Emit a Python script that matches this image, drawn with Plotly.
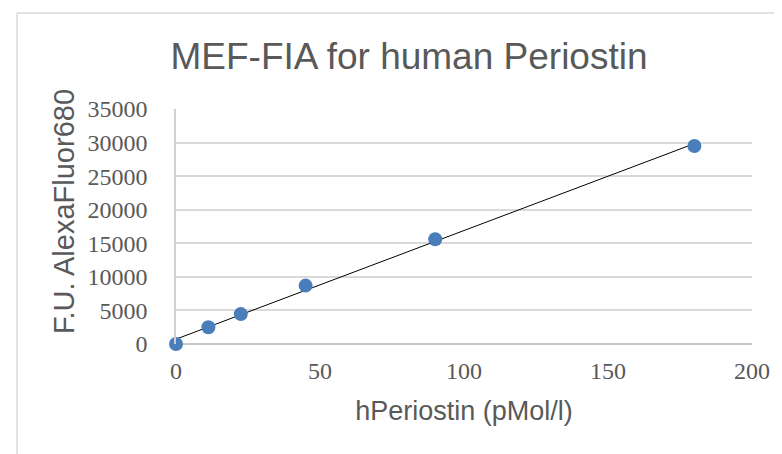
import numpy as np
import plotly.graph_objects as go

conc = [0, 11.25, 22.5, 45, 90, 180]
signal = [0, 2500, 4450, 8700, 15600, 29500]

x_ticks = [0, 50, 100, 150, 200]
y_ticks = [0, 5000, 10000, 15000, 20000, 25000, 30000, 35000]

slope, intercept = np.polyfit(conc, signal, 1)
trend_x = [min(conc), max(conc)]
trend_y = [slope * v + intercept for v in trend_x]

fig = go.Figure()
fig.add_trace(go.Scatter(x=trend_x, y=trend_y, mode="lines",
                         line=dict(color="black", width=1), showlegend=False,
                         hoverinfo="skip"))
fig.add_trace(go.Scatter(x=conc, y=signal, mode="markers", cliponaxis=False,
                         marker=dict(color="#4a7ebb", size=14),
                         showlegend=False))

# page has an 8px body margin; lay out in page coordinates
OFF = 8
W, H = 782 - OFF, 454 - OFF
L, R, T, B = 176 - OFF, 30, 109 - OFF, 110
pw, ph = W - L - R, H - T - B

def px(xp):
    return (xp - OFF - L) / pw

def py(yp):
    return (H - B - (yp - OFF)) / ph

fig.update_layout(
    width=W, height=H,
    margin=dict(l=L, r=R, t=T, b=B),
    paper_bgcolor="white", plot_bgcolor="white",
    title=dict(text="MEF-FIA for human Periostin", x=(409 - OFF) / W, xanchor="center",
               y=1 - (56 - OFF) / H, yanchor="middle",
               font=dict(family="Liberation Sans", size=37, color="#595959")),
    xaxis=dict(range=[0, 200], tickvals=x_ticks, showgrid=False, zeroline=False,
               showline=False, ticks="", ticklabelstandoff=10,
               tickfont=dict(family="Liberation Serif", size=24, color="#595959"),
               title=dict(text="hPeriostin (pMol/l)", standoff=18,
                          font=dict(family="Liberation Sans", size=27, color="#595959"))),
    yaxis=dict(range=[0, 35000], tickvals=y_ticks, tickformat="d", showgrid=True,
               gridcolor="#d9d9d9", gridwidth=1.5, zeroline=True,
               zerolinecolor="#c8c8c8", zerolinewidth=1.5,
               showline=True, linecolor="#d0d0d0", linewidth=1.5,
               ticks="", ticklabelstandoff=22,
               tickfont=dict(family="Liberation Serif", size=24, color="#595959")),
    annotations=[
        dict(text="F.U. AlexaFluor680", textangle=-90, showarrow=False,
             xref="paper", yref="paper", x=px(64), y=py(212),
             xanchor="center", yanchor="middle",
             font=dict(family="Liberation Sans", size=29, color="#595959")),
    ],
    shapes=[
        dict(type="line", xref="paper", yref="paper",
             x0=px(17), x1=px(17), y0=py(13), y1=py(460),
             line=dict(color="#d9d9d9", width=1.5)),
        dict(type="line", xref="paper", yref="paper",
             x0=px(17), x1=px(790), y0=py(13), y1=py(13),
             line=dict(color="#d9d9d9", width=1.5)),
    ],
)

fig.write_html("out.html")
